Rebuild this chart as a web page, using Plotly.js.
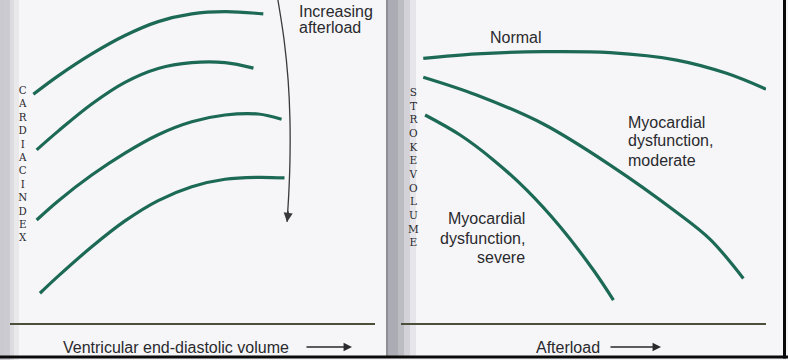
<!DOCTYPE html>
<html>
<head>
<meta charset="utf-8">
<script src="https://cdn.plot.ly/plotly-3.0.1.min.js"></script>
<style>
html,body{margin:0;padding:0;background:#f5f5f7;}
#chart{width:788px;height:360px;}
</style>
</head>
<body>
<div id="chart"></div>
<script>
// ---- Data (arbitrary units 0-100) ----
// Left panel: cardiac index vs ventricular end-diastolic volume, four afterload levels
var edvX1 = [6.4, 13.2, 22.4, 31.5, 40.6, 49.8, 58.9, 69.4];
var ciY1  = [70.8, 76.5, 83.3, 89.0, 93.3, 95.7, 96.4, 95.7];
var edvX2 = [7.3, 13.2, 22.4, 31.5, 40.6, 49.8, 58.9, 66.7];
var ciY2  = [53.6, 59.4, 67.8, 74.5, 78.8, 80.6, 80.6, 78.9];
var edvX3 = [7.3, 13.2, 22.4, 31.5, 40.6, 49.8, 58.9, 68.0, 74.4];
var ciY3  = [31.9, 37.8, 45.8, 52.6, 58.3, 62.3, 64.4, 64.7, 63.1];
var edvX4 = [8.2, 13.2, 22.4, 31.5, 40.6, 49.8, 58.9, 68.0, 75.2];
var ciY4  = [9.2, 14.5, 23.6, 31.6, 37.9, 42.2, 44.5, 45.1, 44.9];
// "Increasing afterload" guide arrow
var arrowX = [73.4, 75.1, 76.2, 76.7, 76.7, 76.4, 75.9];
var arrowY = [100, 87.6, 75.2, 62.8, 50.5, 40.6, 31.3];

// Right panel: stroke volume vs afterload
var normalX   = [6.1, 20.7, 39.0, 57.3, 75.5, 89.2, 100];
var normalY   = [81.9, 83.3, 84.0, 83.7, 81.4, 77.3, 72.4];
var moderateX = [6.1, 20.7, 39.0, 57.3, 75.5, 84.7, 93.8];
var moderateY = [76.1, 70.6, 61.6, 48.9, 34.3, 25.9, 13.8];
var severeX   = [6.6, 16.2, 25.3, 34.4, 43.6, 52.7, 58.2];
var severeY   = [64.4, 58.2, 50.5, 41.2, 29.8, 16.4, 7.1];

// Text
var leftTitleLetters  = "CARDIACINDEX".split("");
var rightTitleLetters = "STROKEVOLUME".split("");
var leftXLabel  = "Ventricular end-diastolic volume";
var rightXLabel = "Afterload";

// ---- Helpers ----
var W = 788, H = 360;
function px(x){ return x / W; }
function py(y){ return 1 - y / H; }

var curveColor = "#1c6a55";
var textColor = "#2a2a2e";
var sans = "Liberation Sans, Arial, sans-serif";
var serif = "DejaVu Serif, Liberation Serif, serif";

function curve(x, y, xa, ya){
  return {x:x, y:y, xaxis:xa, yaxis:ya, type:"scatter", mode:"lines",
    line:{color:curveColor, width:3.2, shape:"spline", smoothing:1.0},
    hoverinfo:"skip", showlegend:false, cliponaxis:false};
}

var traces = [
  curve(edvX1, ciY1, "x", "y"),
  curve(edvX2, ciY2, "x", "y"),
  curve(edvX3, ciY3, "x", "y"),
  curve(edvX4, ciY4, "x", "y"),
  {x:arrowX, y:arrowY, xaxis:"x", yaxis:"y", type:"scatter", mode:"lines",
   line:{color:"#3a3a3e", width:1.3, shape:"spline"}, hoverinfo:"skip", showlegend:false, cliponaxis:false},
  curve(normalX, normalY, "x2", "y2"),
  curve(moderateX, moderateY, "x2", "y2"),
  curve(severeX, severeY, "x2", "y2")
];

var axisCommon = {range:[0,100], showgrid:false, zeroline:false, showticklabels:false, ticks:"", fixedrange:true};
var xCommon = Object.assign({}, axisCommon, {showline:true, linecolor:"#4d4f3a", linewidth:2});
var yCommon = Object.assign({}, axisCommon, {showline:false});

var annotations = [];
function txt(t, x, y, opts){
  annotations.push(Object.assign({text:t, x:px(x), y:py(y), xref:"paper", yref:"paper",
    showarrow:false, font:{family:sans, size:16, color:textColor}, xanchor:"center", yanchor:"middle"}, opts||{}));
}
// Left panel texts
txt("Increasing", 297, 11, {xanchor:"left"});
txt("afterload", 297, 28, {xanchor:"left"});
txt(leftXLabel, 175.5, 347);
txt(leftTitleLetters.join("<br>"), 22, 164, {font:{family:serif, size:10.3, color:textColor}});
// Right panel texts
txt("Normal", 515.5, 38);
txt("Myocardial", 626, 122, {xanchor:"left"});
txt("dysfunction,", 626, 141, {xanchor:"left"});
txt("moderate", 626, 160, {xanchor:"left"});
txt("Myocardial", 527, 219, {xanchor:"right"});
txt("dysfunction,", 527, 238, {xanchor:"right"});
txt("severe", 527, 257, {xanchor:"right"});
txt(rightXLabel, 567.5, 347);
txt(rightTitleLetters.join("<br>"), 413, 167, {font:{family:serif, size:10.5, color:textColor}});
// Arrows
function arr(xh, yh, ax, ay){
  annotations.push({text:"", x:px(xh), y:py(yh), xref:"paper", yref:"paper",
    showarrow:true, ax:ax, ay:ay, arrowhead:2, arrowsize:1.3, arrowwidth:1.3, arrowcolor:"#2a2a2e"});
}
arr(352, 347, -47, 0);
arr(661, 347, -52, 0);
// arrowhead of the curved "increasing afterload" arrow (end of arrowX/arrowY)
annotations.push({text:"", x:arrowX[arrowX.length-1], y:arrowY[arrowY.length-1], xref:"x", yref:"y",
  showarrow:true, ax:1.5, ay:-12, arrowhead:2, arrowsize:1.4, arrowwidth:1.3, arrowcolor:"#3a3a3e"});

// Background scan shading and frame
var shapes = [];
function rect(x0, y0, x1, y1, color){
  shapes.push({type:"rect", xref:"paper", yref:"paper", x0:px(x0), x1:px(x1), y0:py(y1), y1:py(y0),
    fillcolor:color, line:{width:0}, layer:"below"});
}
rect(0, 0, 4, 360, "#c9c9cf");
rect(4, 0, 10, 360, "#cbcbd1");
rect(10, 0, 14, 360, "#dcdce0");
rect(14, 0, 19, 360, "#e9e9ec");
rect(386, 0, 388, 356, "#8e8e96");
rect(388, 0, 398, 356, "#acacb4");
rect(398, 0, 404, 356, "#bcbcc3");
rect(404, 0, 410, 356, "#d2d2d8");
rect(410, 0, 416, 356, "#e6e6ea");
rect(0, 355.5, 788, 358.5, "#0a0a0a");
rect(783, 0, 786, 358.5, "#0a0a0a");

var layout = {
  width:W, height:H,
  margin:{l:0, r:0, t:0, b:0, pad:0},
  paper_bgcolor:"#f6f6f8",
  plot_bgcolor:"rgba(0,0,0,0)",
  showlegend:false,
  xaxis:Object.assign({}, xCommon, {domain:[px(10), px(375)], anchor:"y"}),
  yaxis:Object.assign({}, yCommon, {domain:[py(323), 1], anchor:"x"}),
  xaxis2:Object.assign({}, xCommon, {domain:[px(401), px(766)], anchor:"y2"}),
  yaxis2:Object.assign({}, yCommon, {domain:[py(323), 1], anchor:"x2"}),
  annotations:annotations,
  shapes:shapes
};

Plotly.newPlot("chart", traces, layout, {displayModeBar:false, staticPlot:true});
</script>
</body>
</html>
